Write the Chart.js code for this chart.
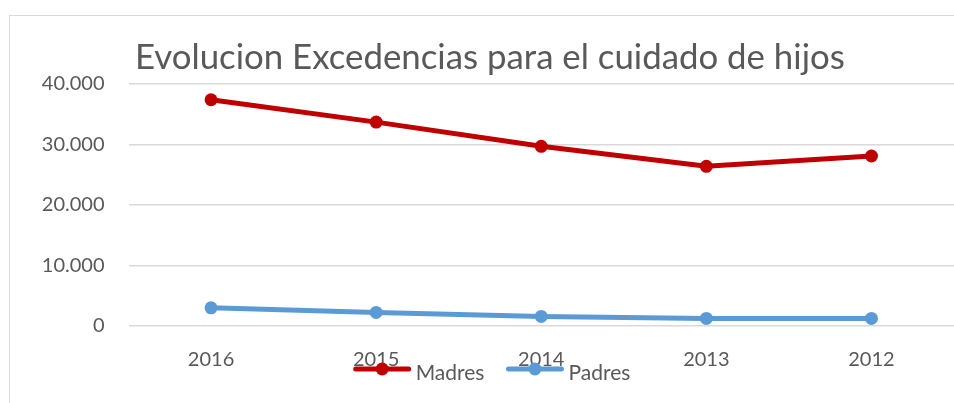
<!DOCTYPE html>
<html>
<head>
<meta charset="utf-8">
<script src="https://cdn.jsdelivr.net/npm/chart.js@4/dist/chart.umd.min.js"></script>
<style>
  html, body { margin: 0; padding: 0; background: #fff; overflow: hidden; }
  #frame { position: absolute; left: 9px; top: 15px; width: 1000px; height: 500px; border: 1px solid #d9d9d9; }
  #wrap { position: absolute; left: 0; top: 0; width: 954px; height: 403px; }
</style>
</head>
<body>
<div id="frame"></div>
<div id="wrap"><canvas id="excedencias" width="954" height="403"></canvas></div>
<script>
'use strict';

const years = ['2016', '2015', '2014', '2013', '2012'];
const madres = [37400, 33700, 29700, 26400, 28100];
const padres = [3000, 2250, 1580, 1250, 1250];
const yTicks = [0, 10000, 20000, 30000, 40000];
const titulo = 'Evolucion Excedencias para el cuidado de hijos';

const gris = '#595959';
const fuente = 'Lato, "Open Sans", sans-serif';

function miles(v) {
  return v === 0 ? '0' : String(v).replace(/\B(?=(\d{3})+(?!\d))/g, '.');
}

// titulo arriba a la izquierda, ajustado al ancho
const tituloPlugin = {
  id: 'tituloPlugin',
  afterDraw(chart) {
    const ctx = chart.ctx;
    ctx.save();
    let size = 34;
    ctx.font = size + 'px ' + fuente;
    const w = ctx.measureText(titulo).width;
    size = size * 710 / w;
    ctx.font = size + 'px ' + fuente;
    ctx.fillStyle = gris;
    ctx.textBaseline = 'alphabetic';
    ctx.textAlign = 'left';
    ctx.fillText(titulo, 135, 69);
    ctx.restore();
  }
};

// leyenda abajo, encima de las etiquetas del eje x
const leyendaPlugin = {
  id: 'leyendaPlugin',
  afterDraw(chart) {
    const ctx = chart.ctx;
    const sets = chart.data.datasets;
    const cy = 369;
    ctx.save();
    ctx.font = '21px ' + fuente;
    const anchos = sets.map(d => ctx.measureText(d.label).width);
    let total = 0;
    anchos.forEach((a, i) => { total += 62 + a + (i < sets.length - 1 ? 22 : 0); });
    let x = 492 - total / 2;
    sets.forEach((d, i) => {
      ctx.strokeStyle = d.borderColor;
      ctx.lineWidth = 5;
      ctx.lineCap = 'round';
      ctx.beginPath();
      ctx.moveTo(x + 2, cy);
      ctx.lineTo(x + 55, cy);
      ctx.stroke();
      ctx.fillStyle = d.borderColor;
      ctx.beginPath();
      ctx.arc(x + 28.5, cy, 6.5, 0, Math.PI * 2);
      ctx.fill();
      ctx.fillStyle = gris;
      ctx.textBaseline = 'middle';
      ctx.fillText(d.label, x + 62, cy + 4);
      x += 62 + anchos[i] + 22;
    });
    ctx.restore();
  }
};

new Chart(document.getElementById('excedencias').getContext('2d'), {
  type: 'line',
  data: {
    labels: years,
    datasets: [{
      label: 'Madres',
      data: madres,
      borderColor: '#C00000',
      backgroundColor: '#C00000',
      borderWidth: 5,
      pointRadius: 6.5,
      pointHoverRadius: 6.5,
      pointBorderWidth: 0,
      tension: 0
    }, {
      label: 'Padres',
      data: padres,
      borderColor: '#5B9BD5',
      backgroundColor: '#5B9BD5',
      borderWidth: 5,
      pointRadius: 6.5,
      pointHoverRadius: 6.5,
      pointBorderWidth: 0,
      tension: 0
    }]
  },
  options: {
    responsive: false,
    animation: false,
    // el area de trazado llega hasta el borde derecho
    layout: { autoPadding: false, padding: { top: 84, left: 0, right: 0, bottom: 0 } },
    scales: {
      x: {
        offset: true,
        grid: { display: false, drawTicks: false },
        border: { display: false },
        ticks: { color: gris, font: { family: fuente, size: 20 }, padding: 22, maxRotation: 0 },
        afterFit(scale) {
          scale.height = 77;
          scale.paddingLeft = 0;
          scale.paddingRight = 0;
        }
      },
      y: {
        min: 0,
        max: 40000,
        afterBuildTicks(scale) { scale.ticks = yTicks.map(v => ({ value: v })); },
        grid: { color: '#d9d9d9', lineWidth: 1.5, drawTicks: false },
        border: { display: false },
        ticks: {
          color: gris,
          font: { family: fuente, size: 20 },
          padding: 24,
          callback: v => miles(v)
        },
        afterFit(scale) {
          scale.width = 128.5;
          scale.paddingTop = 0;
          scale.paddingBottom = 0;
        }
      }
    },
    plugins: {
      legend: { display: false },
      title: { display: false },
      tooltip: { enabled: false }
    }
  },
  plugins: [tituloPlugin, leyendaPlugin]
});
</script>
</body>
</html>
